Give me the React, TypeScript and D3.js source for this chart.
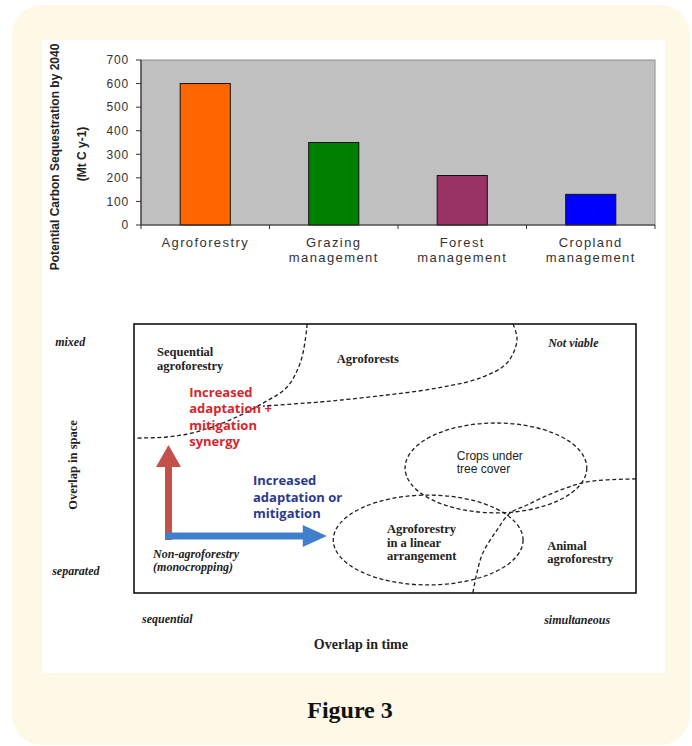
import * as d3 from "d3";

// ---- bar chart data ----
const categories = ["Agroforestry", "Grazing management", "Forest management", "Cropland management"];
const categoryLines = [["Agroforestry"], ["Grazing", "management"], ["Forest", "management"], ["Cropland", "management"]];
const values = [600, 350, 210, 130];
const barColors = ["#ff6600", "#008000", "#993366", "#0000ff"];
const yTicks = [0, 100, 200, 300, 400, 500, 600, 700];

// ---- diagram shapes (0-100 overlap-in-time x 0-100 overlap-in-space) ----
const sequentialCurve: [number, number][] = [
    [34.5, 100], [33.3, 86.6], [30.5, 76.6], [25.7, 70.6], [19.1, 64.3], [12.5, 59.9], [6.6, 58.0], [0, 57.6],
];
const agroforestsCurve: [number, number][] = [
    [75.5, 100], [76.3, 94.1], [74.3, 85.5], [68.9, 79.9], [60.4, 76.2], [50.4, 73.6], [41.0, 71.7], [37.1, 71.0], [25.7, 69.5],
];
const animalCurve: [number, number][] = [
    [100, 42.4], [90.2, 41.3], [83.5, 37.2], [78.3, 32.7], [74.9, 29.7], [72.3, 23.4], [69.5, 14.9], [68.3, 7.4], [67.5, 0],
];
// [cx, cy, rx, ry]
const ellipses: [number, number, number, number][] = [
    [72.1, 46.5, 18.1, 16.7],
    [58.6, 19.7, 18.9, 16.7],
];

type Label = { lines: string[]; x: number; y: number; kind: string };
const labels: Label[] = [
    { lines: ["mixed"], x: -15.7, y: 91.8, kind: "axisItalic" },
    { lines: ["separated"], x: -16.3, y: 6.7, kind: "axisItalic" },
    { lines: ["sequential"], x: 1.6, y: -11.2, kind: "axisItalic" },
    { lines: ["simultaneous"], x: 81.7, y: -11.5, kind: "axisItalic" },
    { lines: ["Not viable"], x: 82.5, y: 91.4, kind: "axisItalic" },
    { lines: ["Non-agroforestry", "(monocropping)"], x: 3.8, y: 13.0, kind: "axisItalic" },
    { lines: ["Sequential", "agroforestry"], x: 4.6, y: 88.1, kind: "serif" },
    { lines: ["Agroforests"], x: 40.4, y: 85.5, kind: "serif" },
    { lines: ["Crops under", "tree cover"], x: 64.3, y: 49.4, kind: "sans" },
    { lines: ["Agroforestry", "in a linear", "arrangement"], x: 50.4, y: 22.3, kind: "serif" },
    { lines: ["Animal", "agroforestry"], x: 82.3, y: 16.0, kind: "serif" },
    { lines: ["Increased", "adaptation +", "mitigation", "synergy"], x: 11.0, y: 72.9, kind: "red" },
    { lines: ["Increased", "adaptation or", "mitigation"], x: 23.7, y: 40.0, kind: "blue" },
];

const labelStyle: Record<string, any> = {
    axisItalic: { fontFamily: "Liberation Serif", fontStyle: "italic", fontWeight: "bold", fontSize: 12, fill: "#222", lh: 13 },
    serif: { fontFamily: "Liberation Serif", fontWeight: "bold", fontSize: 12.5, fill: "#222", lh: 13.5 },
    sans: { fontFamily: "Liberation Sans", fontSize: 12, fill: "#222", lh: 13 },
    red: { fontFamily: "Open Sans", fontWeight: "bold", fontSize: 13, fill: "#d7262c", lh: 16.5 },
    blue: { fontFamily: "Open Sans", fontWeight: "bold", fontSize: 13, fill: "#2b3a8f", lh: 16.5 },
};

function arrowPath(x0: number, y0: number, x1: number, y1: number, shaft: number, headLen: number, headHalf: number) {
    const dx = x1 - x0, dy = y1 - y0;
    const len = Math.hypot(dx, dy);
    const ux = dx / len, uy = dy / len;
    const nx = -uy, ny = ux;
    const bx = x1 - ux * headLen, by = y1 - uy * headLen;
    const s = shaft / 2;
    const pts = [
        [x0 + nx * s, y0 + ny * s],
        [bx + nx * s, by + ny * s],
        [bx + nx * headHalf, by + ny * headHalf],
        [x1, y1],
        [bx - nx * headHalf, by - ny * headHalf],
        [bx - nx * s, by - ny * s],
        [x0 - nx * s, y0 - ny * s],
    ];
    return "M" + pts.map((p) => p.join(",")).join("L") + "Z";
}

export default function App() {
    const W = 692, H = 746;

    // bar chart
    const plot = { left: 141, right: 655, top: 60, bottom: 225 };
    const x = d3.scaleBand<string>().domain(categories).range([plot.left, plot.right]).padding(0);
    const y = d3.scaleLinear().domain([0, 700]).range([plot.bottom, plot.top]);
    const barW = x.bandwidth() * 0.39;

    // diagram
    const tx = d3.scaleLinear().domain([0, 100]).range([134, 636]);
    const sy = d3.scaleLinear().domain([0, 100]).range([593, 324]);
    const curve = d3
        .line<[number, number]>()
        .x((d) => tx(d[0]))
        .y((d) => sy(d[1]))
        .curve(d3.curveCatmullRom.alpha(0.5));

    const dash = { fill: "none", stroke: "#1e1e1e", strokeWidth: 1.3, strokeDasharray: "4 2.6" };

    return (
        <svg width={W} height={H} style={{ position: "absolute", left: 0, top: 0, background: "#fff" }}>
            <rect x={12} y={5} width={678} height={740} rx={30} fill="#fdf9e6" />
            <rect x={42} y={40} width={623} height={633} fill="#ffffff" />

            {/* ---- bar chart ---- */}
            <rect x={plot.left} y={plot.top} width={plot.right - plot.left} height={plot.bottom - plot.top} fill="#c0c0c0" stroke="#8c8c8c" strokeWidth={1} />
            {categories.map((c, i) => (
                <rect
                    key={c}
                    x={(x(c) ?? 0) + x.bandwidth() / 2 - barW / 2}
                    y={y(values[i])}
                    width={barW}
                    height={y(0) - y(values[i])}
                    fill={barColors[i]}
                    stroke="#111"
                    strokeWidth={1}
                />
            ))}
            <line x1={plot.left} x2={plot.left} y1={plot.top} y2={plot.bottom} stroke="#333" strokeWidth={1.2} />
            <line x1={plot.left} x2={plot.right} y1={plot.bottom} y2={plot.bottom} stroke="#333" strokeWidth={1.2} />
            {yTicks.map((t) => (
                <g key={t}>
                    <line x1={plot.left - 5} x2={plot.left} y1={y(t)} y2={y(t)} stroke="#333" strokeWidth={1} />
                    <text x={plot.left - 12} y={y(t)} dy="0.36em" textAnchor="end" fontFamily="Liberation Sans" fontSize={12} letterSpacing={0.8} fill="#333">
                        {t}
                    </text>
                </g>
            ))}
            {categories.map((c) => (
                <line key={c} x1={x(c)} x2={x(c)} y1={plot.bottom} y2={plot.bottom + 4} stroke="#333" strokeWidth={1} />
            ))}
            <line x1={plot.right} x2={plot.right} y1={plot.bottom} y2={plot.bottom + 4} stroke="#333" strokeWidth={1} />
            {categories.map((c, i) => (
                <text key={c} textAnchor="middle" fontFamily="Liberation Sans" fontSize={13} letterSpacing={1.4} fill="#333">
                    {categoryLines[i].map((l, j) => (
                        <tspan key={j} x={(x(c) ?? 0) + x.bandwidth() / 2} y={247 + j * 15}>
                            {l}
                        </tspan>
                    ))}
                </text>
            ))}
            <g fontFamily="Liberation Sans" fontWeight="bold" fontSize={12} fill="#222" textAnchor="middle">
                <text transform="translate(59,157) rotate(-90)">Potential Carbon Sequestration by 2040</text>
                <text transform="translate(86,154) rotate(-90)">(Mt C y-1)</text>
            </g>

            {/* ---- diagram ---- */}
            <rect x={tx(0)} y={sy(100)} width={tx(100) - tx(0)} height={sy(0) - sy(100)} fill="none" stroke="#111" strokeWidth={1.6} />
            <path d={curve(sequentialCurve) ?? ""} {...dash} />
            <path d={curve(agroforestsCurve) ?? ""} {...dash} />
            <path d={curve(animalCurve) ?? ""} {...dash} />
            {ellipses.map((e, i) => (
                <ellipse key={i} cx={tx(e[0])} cy={sy(e[1])} rx={tx(e[2]) - tx(0)} ry={sy(0) - sy(e[3])} {...dash} />
            ))}

            <path d={arrowPath(tx(6.87), sy(19.7), tx(6.87), sy(55.0), 7, 22, 12.5)} fill="#c4504c" />
            <path d={arrowPath(tx(6.3), sy(21.2), tx(38.4), sy(21.2), 7, 24, 11)} fill="#3f7fcc" />

            {labels.map((lb, i) => {
                const st = labelStyle[lb.kind];
                return (
                    <text key={i} fontFamily={st.fontFamily} fontStyle={st.fontStyle} fontWeight={st.fontWeight} fontSize={st.fontSize} fill={st.fill}>
                        {lb.lines.map((l, j) => (
                            <tspan key={j} x={tx(lb.x)} y={sy(lb.y) + j * st.lh}>
                                {l}
                            </tspan>
                        ))}
                    </text>
                );
            })}
            <text x={tx(45.2)} y={sy(-20.8)} textAnchor="middle" fontFamily="Liberation Serif" fontWeight="bold" fontSize={14} fill="#222">
                Overlap in time
            </text>
            <text transform={`translate(${tx(-12.2) + 4},${sy(47.6)}) rotate(-90)`} textAnchor="middle" fontFamily="Liberation Serif" fontWeight="bold" fontSize={12.5} fill="#222">
                Overlap in space
            </text>

            <text x={350} y={718} textAnchor="middle" fontFamily="Liberation Serif" fontWeight="bold" fontSize={24} fill="#111">
                Figure 3
            </text>
        </svg>
    );
}
